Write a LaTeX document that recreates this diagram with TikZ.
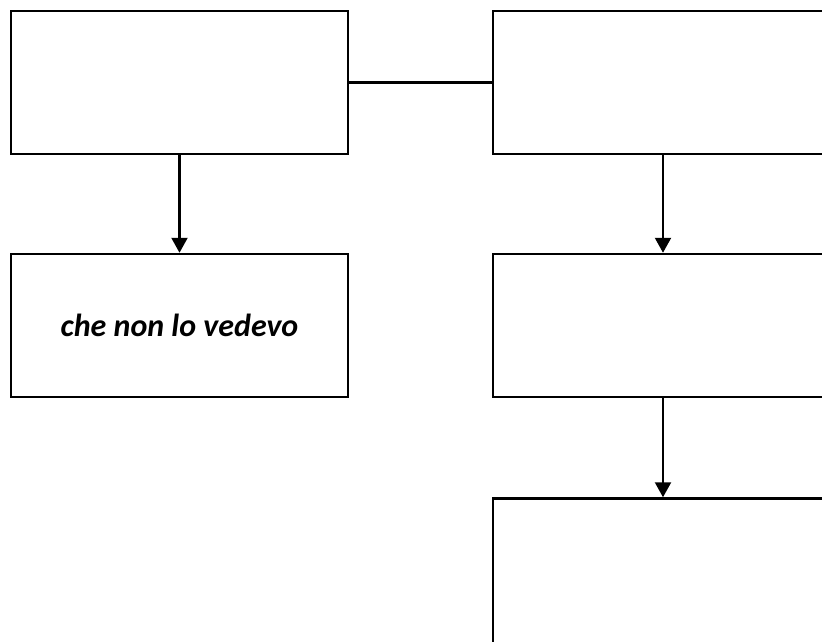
\documentclass[tikz,border=0pt]{standalone}
\usepackage{fontspec}
\newfontfamily\carlito{Carlito}
\usetikzlibrary{positioning,arrows.meta}
\tikzset{
	box/.style={draw, line width=2.5pt, minimum width=337pt, minimum height=143pt, inner sep=0pt, font=\carlito\bfseries\itshape\fontsize{32}{38}\selectfont},
	wire/.style={line width=2.2pt},
	arr/.style={wire, -{Triangle[width=16pt,length=15pt]}}
}
\begin{document}
\begin{tikzpicture}[x=1pt, y=1pt]
	% Frame and boxes:
	\useasboundingbox (0, 0) rectangle (822, -642);
	\clip (0, 0) rectangle (822, -642);
	\node[box](A) at (179.5, -82.5){};
	\node[box, right=142.5pt of A](B){};
	\node[box, below=97.5pt of A](C){che non lo vedevo};
	\node[box, below=97.5pt of B](D){};
	\node[box, below=99pt of D, minimum height=160pt](E){};
	% Connectors:
	\draw[wire] (A.east) -- (B.west);
	\draw[arr] (A.south) -- (C.north);
	\draw[arr] ([xshift=1.5pt]B.south) -- ([xshift=1.5pt]D.north);
	\draw[arr] ([xshift=1.5pt]D.south) -- ([xshift=1.5pt]E.north);
\end{tikzpicture}
\end{document}
